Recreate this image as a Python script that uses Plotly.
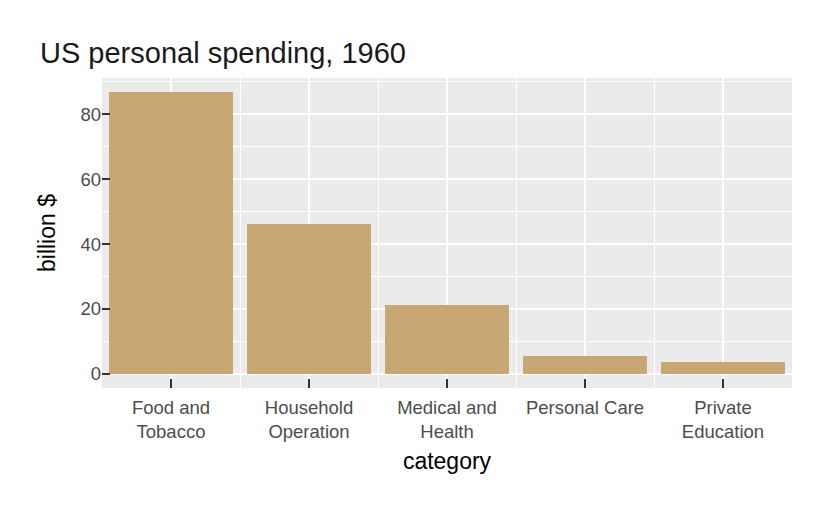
import plotly.graph_objects as go

# US personal expenditure, 1960 (billion $)
categories = ['Food and Tobacco', 'Household Operation', 'Medical and Health',
              'Personal Care', 'Private Education']
tick_labels = ['Food and<br>Tobacco', 'Household<br>Operation', 'Medical and<br>Health',
               'Personal Care', 'Private<br>Education']
spending = [86.8, 46.2, 21.1, 5.4, 3.64]

positions = list(range(1, len(categories) + 1))
boundaries = [p + 0.5 for p in positions[:-1]]

bar_colour = '#C8A774'
panel_grey = '#EBEBEB'
font_family = 'Liberation Sans, Arial, sans-serif'

fig = go.Figure()

fig.add_trace(
    go.Bar(x=positions,
           y=spending,
           width=0.9,
           marker_color=bar_colour,
           marker_line={'width': 0},
           customdata=categories,
           hovertemplate='%{customdata}: %{y}<extra></extra>',
           showlegend=False,
           )
    )

fig.update_xaxes(range=[0.5, 5.5],
                 tickvals=positions,
                 ticktext=tick_labels,
                 ticks='inside',
                 ticklen=9,
                 tickwidth=1.5,
                 tickcolor='#333333',
                 tickfont={'size': 18.5, 'color': '#4D4D4D'},
                 ticklabelstandoff=6,
                 showgrid=True,
                 gridcolor='white',
                 gridwidth=2,
                 minor={'tickvals': boundaries, 'showgrid': True,
                        'gridcolor': 'white', 'gridwidth': 1, 'ticks': ''},
                 zeroline=False,
                 showline=False,
                 title={'text': 'category', 'font': {'size': 23, 'color': 'black'},
                        'standoff': 12},
                 )

fig.update_yaxes(range=[-4.34, 91.14],
                 tickvals=[0, 20, 40, 60, 80],
                 ticks='inside',
                 ticklen=8,
                 tickwidth=1.5,
                 tickcolor='#333333',
                 tickfont={'size': 18.5, 'color': '#4D4D4D'},
                 showgrid=True,
                 gridcolor='white',
                 gridwidth=2,
                 minor={'tickvals': [10, 30, 50, 70, 90], 'showgrid': True,
                        'gridcolor': 'white', 'gridwidth': 1, 'ticks': ''},
                 zeroline=False,
                 showline=False,
                 title={'text': 'billion $', 'font': {'size': 23, 'color': 'black'},
                        'standoff': 18},
                 )

fig.update_layout(width=825,
                  height=510,
                  margin={'l': 94, 'r': 41, 't': 70, 'b': 130},
                  title={'text': 'US personal spending, 1960',
                         'x': 32 / 825, 'xanchor': 'left', 'xref': 'container',
                         'y': 1 - 45 / 510, 'yanchor': 'middle', 'yref': 'container',
                         'font': {'size': 29, 'color': '#1A1A1A'}},
                  font={'family': font_family, 'size': 18},
                  paper_bgcolor='white',
                  plot_bgcolor=panel_grey,
                  bargap=0,
                  )

fig.write_html('out.html')
